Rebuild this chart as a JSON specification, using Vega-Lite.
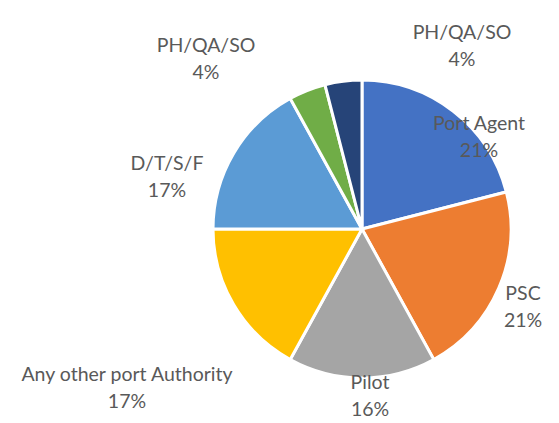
{
  "$schema": "https://vega.github.io/schema/vega-lite/v6.json",
  "width": 394,
  "height": 388,
  "autosize": {"type": "none"},
  "padding": {"left": 165, "top": 35, "right": 0, "bottom": 0},
  "background": "white",
  "config": {"view": {"stroke": null}},
  "data": {
    "values": [
      {"order": 1, "label": "Port Agent", "pct": 0.21},
      {"order": 2, "label": "PSC", "pct": 0.21},
      {"order": 3, "label": "Pilot", "pct": 0.16},
      {"order": 4, "label": "Any other port Authority", "pct": 0.17},
      {"order": 5, "label": "D/T/S/F", "pct": 0.17},
      {"order": 6, "label": "PH/QA/SO", "pct": 0.04},
      {"order": 7, "label": "PH/QA/SO", "pct": 0.04}
    ]
  },
  "layer": [
    {
      "mark": {"type": "arc", "outerRadius": 149, "stroke": "white", "strokeWidth": 3},
      "encoding": {
        "theta": {"field": "pct", "type": "quantitative", "stack": true},
        "order": {"field": "order", "type": "quantitative", "sort": "ascending"},
        "color": {
          "field": "order",
          "type": "nominal",
          "scale": {"domain": [1, 2, 3, 4, 5, 6, 7], "range": ["#4472C4", "#ED7D31", "#A5A5A5", "#FFC000", "#5B9BD5", "#70AD47", "#264478"]},
          "legend": null
        }
      }
    },
    {
      "mark": {
        "type": "text",
        "radius": 170,
        "font": "Lato",
        "fontSize": 19.5,
        "color": "#595959",
        "align": "center",
        "baseline": "middle",
        "dx": {"expr": "[0, 12.8, 5, 8, -88.7, -48.7, -93.4, 121.3][datum.order]"},
        "dy": {"expr": "[0, 42.5, 11, -3, 73, 35, -11.5, -13.5][datum.order] - 13.5"}
      },
      "encoding": {
        "theta": {"field": "pct", "type": "quantitative", "stack": true},
        "order": {"field": "order", "type": "quantitative", "sort": "ascending"},
        "detail": {"field": "order", "type": "nominal"},
        "text": {"field": "label", "type": "nominal"}
      }
    },
    {
      "mark": {
        "type": "text",
        "radius": 170,
        "font": "Lato",
        "fontSize": 19.5,
        "color": "#595959",
        "align": "center",
        "baseline": "middle",
        "dx": {"expr": "[0, 12.8, 5, 8, -88.7, -48.7, -93.4, 121.3][datum.order]"},
        "dy": {"expr": "[0, 42.5, 11, -3, 73, 35, -11.5, -13.5][datum.order] + 13.5"}
      },
      "encoding": {
        "theta": {"field": "pct", "type": "quantitative", "stack": true},
        "order": {"field": "order", "type": "quantitative", "sort": "ascending"},
        "detail": {"field": "order", "type": "nominal"},
        "text": {"field": "pct", "type": "quantitative", "format": ".0%"}
      }
    }
  ]
}
